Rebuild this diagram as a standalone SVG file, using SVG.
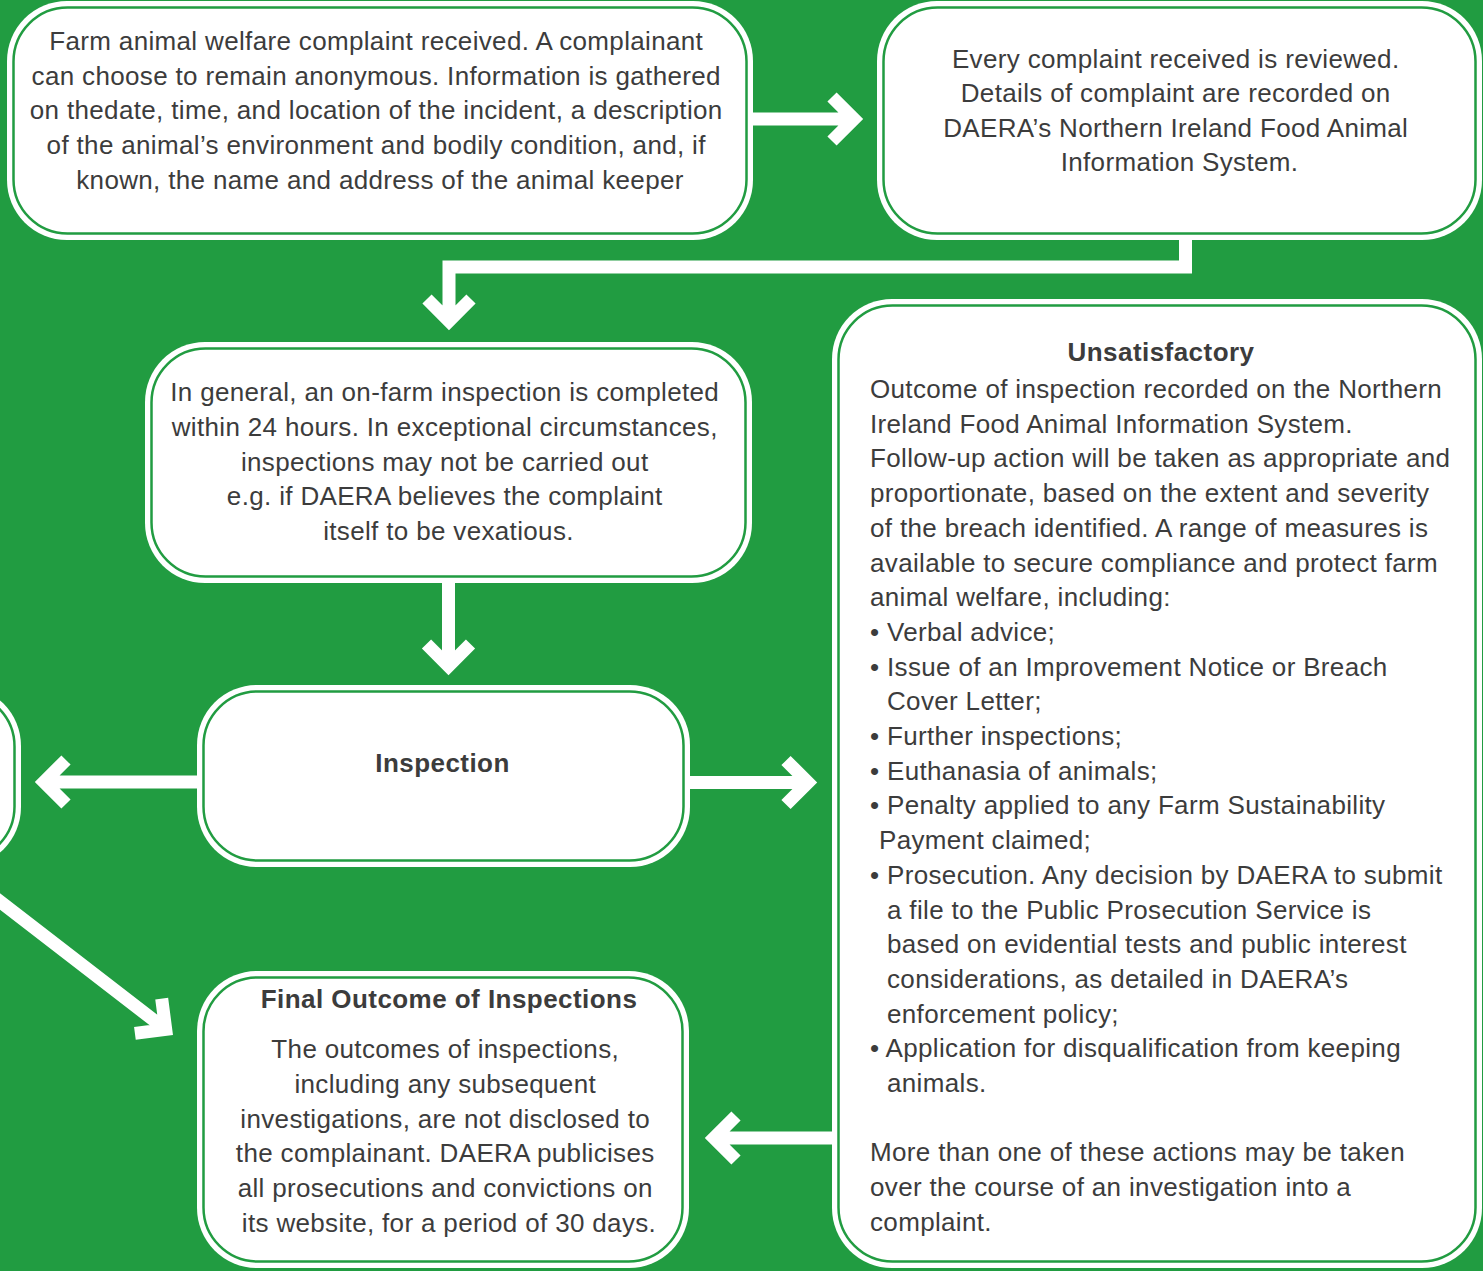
<svg xmlns="http://www.w3.org/2000/svg" width="1483" height="1271" viewBox="0 0 1483 1271">
  <defs>
    <style>
      .bg { fill: #219c41; }
      .outer { fill: #ffffff; }
      .inner { fill: #ffffff; stroke: #219c41; stroke-width: 2.5; }
      .txt { font-family: "Liberation Sans", Arial, Helvetica, sans-serif; font-size: 26px; letter-spacing: 0.34px; fill: #3c3c3c; }
      .mid { text-anchor: middle; }
      .bold { font-weight: bold; letter-spacing: 0.45px; }
      .wire { fill: none; stroke: #ffffff; stroke-width: 13; stroke-linejoin: miter; stroke-linecap: butt; }
    </style>
  </defs>

  <rect class="bg" x="0" y="0" width="1483" height="1271"/>

  <!-- connectors drawn first so the boxes cover their starting ends -->
  <g id="connectors">
    <path class="wire" d="M745,119 H854 M832,97 L854,119 L832,141"/>
    <path class="wire" d="M1185.5,230 V267 H449 V321 M427,299 L449,321 L471,299"/>
    <path class="wire" d="M448.5,575 V666 M426.5,644 L448.5,666 L470.5,644"/>
    <path class="wire" d="M680,782.5 H808 M786,760.5 L808,782.5 L786,804.5"/>
    <path class="wire" d="M205,782 H44 M66,760 L44,782 L66,804"/>
    <path class="wire" d="M845,1138 H714 M736,1116 L714,1138 L736,1160"/>
    <path class="wire" d="M-10,893.8 L165.7,1029.4 M161.7,998.6 L165.7,1029.4 L134.9,1033.4"/>
  </g>

  <g id="node-complaint">
    <rect class="outer" x="7" y="1" width="746" height="239" rx="60"/>
    <rect class="inner" x="13.5" y="7.5" width="733" height="226" rx="54"/>
    <text class="txt mid">
      <tspan x="380" y="50">Farm animal welfare complaint received. A complainant</tspan>
      <tspan x="380" y="85">can choose to remain anonymous. Information is gathered</tspan>
      <tspan x="380" y="119">on thedate, time, and location of the incident, a description</tspan>
      <tspan x="380" y="154">of the animal’s environment and bodily condition, and, if</tspan>
      <tspan x="380" y="189">known, the name and address of the animal keeper</tspan>
    </text>
  </g>

  <g id="node-review">
    <rect class="outer" x="877" y="1" width="605" height="239" rx="60"/>
    <rect class="inner" x="883.5" y="7.5" width="592" height="226" rx="54"/>
    <text class="txt mid">
      <tspan x="1179.5" y="68">Every complaint received is reviewed.</tspan>
      <tspan x="1179.5" y="102">Details of complaint are recorded on</tspan>
      <tspan x="1179.5" y="137">DAERA’s Northern Ireland Food Animal</tspan>
      <tspan x="1179.5" y="171">Information System.</tspan>
    </text>
  </g>

  <g id="node-timing">
    <rect class="outer" x="145" y="342" width="607" height="241" rx="60"/>
    <rect class="inner" x="151.5" y="348.5" width="594" height="228" rx="54"/>
    <text class="txt mid">
      <tspan x="448.5" y="401">In general, an on-farm inspection is completed</tspan>
      <tspan x="448.5" y="436">within 24 hours. In exceptional circumstances,</tspan>
      <tspan x="448.5" y="471">inspections may not be carried out</tspan>
      <tspan x="448.5" y="505">e.g. if DAERA believes the complaint</tspan>
      <tspan x="448.5" y="540">itself to be vexatious.</tspan>
    </text>
  </g>

  <g id="node-inspection">
    <rect class="outer" x="197" y="685" width="493" height="182" rx="60"/>
    <rect class="inner" x="203.5" y="691.5" width="480" height="169" rx="54"/>
    <text class="txt mid bold" x="442.5" y="772">Inspection</text>
  </g>

  <g id="node-satisfactory">
    <rect class="outer" x="-480" y="686" width="501" height="181" rx="60"/>
    <rect class="inner" x="-473.5" y="692.5" width="488" height="168" rx="54"/>
  </g>

  <g id="node-final-outcome">
    <rect class="outer" x="197" y="971" width="492" height="297" rx="60"/>
    <rect class="inner" x="203.5" y="977.5" width="479" height="284" rx="54"/>
    <text class="txt mid bold" x="449" y="1008">Final Outcome of Inspections</text>
    <text class="txt mid">
      <tspan x="449" y="1058">The outcomes of inspections,</tspan>
      <tspan x="449" y="1093">including any subsequent</tspan>
      <tspan x="449" y="1128">investigations, are not disclosed to</tspan>
      <tspan x="449" y="1162">the complainant. DAERA publicises</tspan>
      <tspan x="449" y="1197">all prosecutions and convictions on</tspan>
      <tspan x="449" y="1232">its website, for a period of 30 days.</tspan>
    </text>
  </g>

  <g id="node-unsatisfactory">
    <rect class="outer" x="832" y="299" width="650" height="969" rx="60"/>
    <rect class="inner" x="838.5" y="305.5" width="637" height="956" rx="54"/>
    <text class="txt mid bold" x="1161" y="361">Unsatisfactory</text>
    <text class="txt">
      <tspan x="870" y="398">Outcome of inspection recorded on the Northern</tspan>
      <tspan x="870" y="432.7">Ireland Food Animal Information System.</tspan>
      <tspan x="870" y="467.4">Follow-up action will be taken as appropriate and</tspan>
      <tspan x="870" y="502.1">proportionate, based on the extent and severity</tspan>
      <tspan x="870" y="536.8">of the breach identified. A range of measures is</tspan>
      <tspan x="870" y="571.5">available to secure compliance and protect farm</tspan>
      <tspan x="870" y="606.2">animal welfare, including:</tspan>
      <tspan x="870" y="640.9">• Verbal advice;</tspan>
      <tspan x="870" y="675.6">• Issue of an Improvement Notice or Breach</tspan>
      <tspan x="887" y="710.3">Cover Letter;</tspan>
      <tspan x="870" y="745">• Further inspections;</tspan>
      <tspan x="870" y="779.7">• Euthanasia of animals;</tspan>
      <tspan x="870" y="814.4">• Penalty applied to any Farm Sustainability</tspan>
      <tspan x="879" y="849.1">Payment claimed;</tspan>
      <tspan x="870" y="883.8">• Prosecution. Any decision by DAERA to submit</tspan>
      <tspan x="887" y="918.5">a file to the Public Prosecution Service is</tspan>
      <tspan x="887" y="953.2">based on evidential tests and public interest</tspan>
      <tspan x="887" y="987.9">considerations, as detailed in DAERA’s</tspan>
      <tspan x="887" y="1022.6">enforcement policy;</tspan>
      <tspan x="870" y="1057.3">• Application for disqualification from keeping</tspan>
      <tspan x="887" y="1092">animals.</tspan>
      <tspan x="870" y="1161.4">More than one of these actions may be taken</tspan>
      <tspan x="870" y="1196.1">over the course of an investigation into a</tspan>
      <tspan x="870" y="1230.8">complaint.</tspan>
    </text>
  </g>
</svg>
